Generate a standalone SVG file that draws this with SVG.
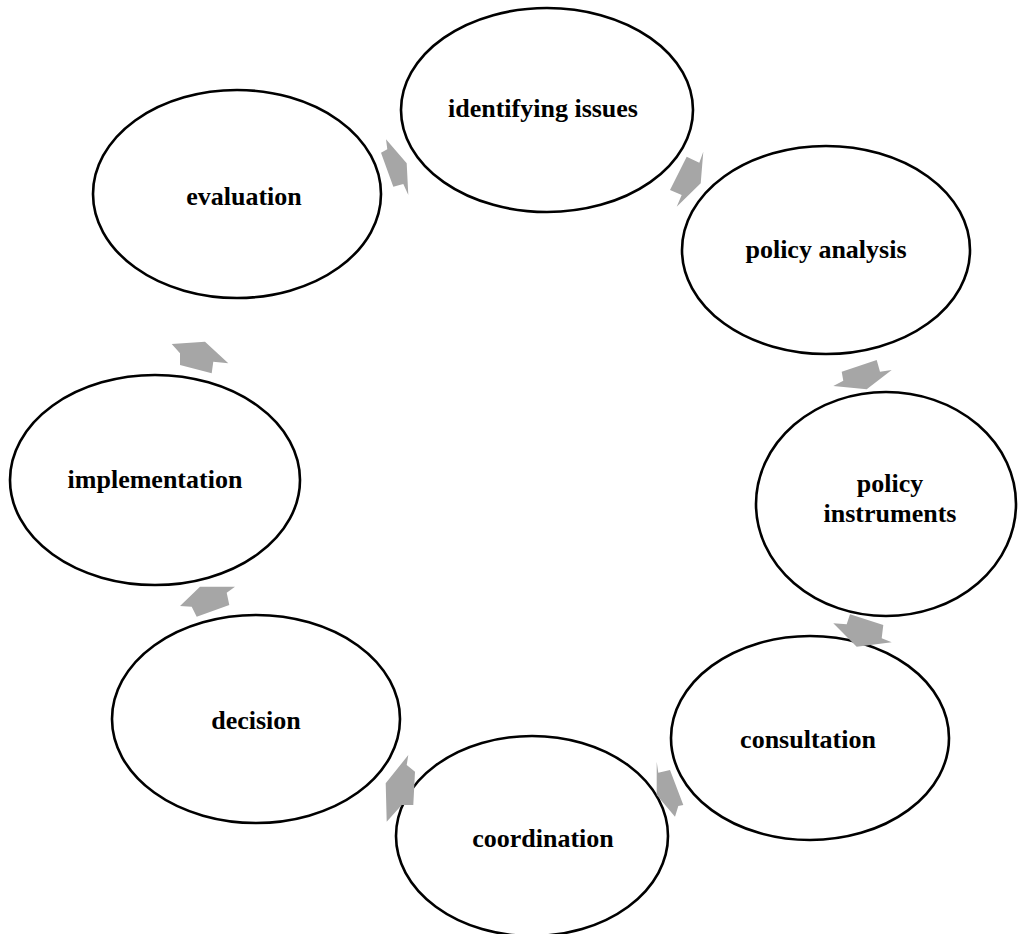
<svg xmlns="http://www.w3.org/2000/svg" width="1018" height="934" viewBox="0 0 1018 934">
<style>
.n{fill:#fff;stroke:#000;stroke-width:2.6}
.t{font-family:"Liberation Serif","Times New Roman",serif;font-weight:bold;font-size:26px;fill:#000;text-anchor:middle}
.a{fill:#a6a6a6;stroke:none}
</style>
<rect width="1018" height="934" fill="#fff"/>
<g id="n1"><ellipse class="n" cx="547" cy="110" rx="146" ry="102"/><text class="t" x="543" y="117">identifying issues</text></g>
<g id="n2"><ellipse class="n" cx="826" cy="250" rx="144" ry="104"/><text class="t" x="826" y="258">policy analysis</text></g>
<g id="n3"><ellipse class="n" cx="886" cy="504" rx="130" ry="112"/><text class="t" x="890" y="492">policy</text><text class="t" x="890" y="522">instruments</text></g>
<g id="n4"><ellipse class="n" cx="810" cy="738" rx="139" ry="102"/><text class="t" x="808" y="748">consultation</text></g>
<g id="n5"><ellipse class="n" cx="532" cy="836" rx="136" ry="100"/><text class="t" x="543" y="847">coordination</text></g>
<g id="n6"><ellipse class="n" cx="256" cy="719" rx="144" ry="104"/><text class="t" x="256" y="729">decision</text></g>
<g id="n7"><ellipse class="n" cx="155" cy="480" rx="145" ry="105"/><text class="t" x="155" y="488">implementation</text></g>
<g id="n8"><ellipse class="n" cx="237" cy="194" rx="144" ry="104"/><text class="t" x="244" y="205">evaluation</text></g>
<g id="connectors">
<polygon class="a" points="386,139.3 387.3,149.3 381,152.7 393.3,186.7 403.3,184 408.3,195 406.7,163.3"/>
<polygon class="a" points="703.3,151.7 700.7,183.3 676.7,206.7 681.7,195 670,190 686.7,156.7 699.3,162.7"/>
<polygon class="a" points="841.7,371.7 876.7,360 880,371.7 891.7,370 866.7,389.3 833.3,386 843.3,380.7"/>
<polygon class="a" points="850,614.3 883.3,625 881.7,638.3 891.7,642.3 856.7,646.7 833.3,623.3 846.7,624.3"/>
<polygon class="a" points="656.7,761.7 658.3,772.7 670,770 683.3,805 678.3,806 675,816.7 656.7,795"/>
<polygon class="a" points="408.3,755 406.7,765 415,771.7 413.3,805 401.7,805 386.7,821.7 385.7,783.3"/>
<polygon class="a" points="180,606 200,586.7 235,586.7 226.7,592.7 229.3,605 196.7,616.7 191.7,606.7"/>
<polygon class="a" points="171.7,344 205,341.7 228.3,363.3 213.3,361.7 211.7,373.3 180,365 180,353.3"/>
</g>
</svg>
